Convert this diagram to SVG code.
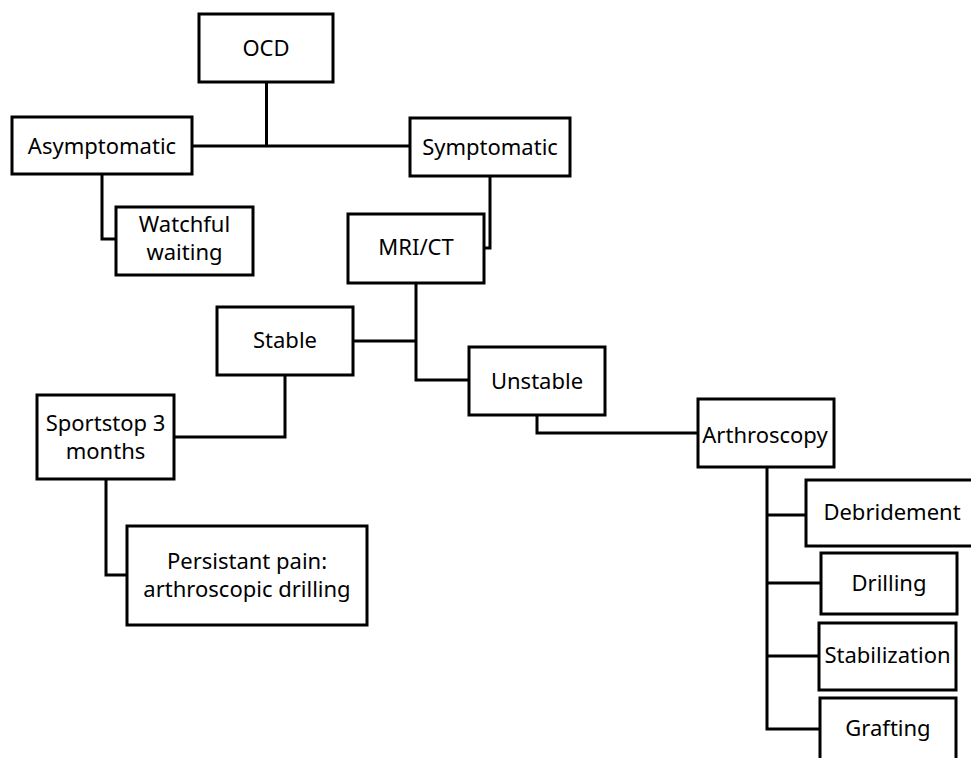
<svg xmlns="http://www.w3.org/2000/svg" width="971" height="758" viewBox="0 0 971 758">
<style>
.box{fill:#fff;stroke:#000;stroke-width:3}
.c{fill:none;stroke:#000;stroke-width:3}
text{font-family:"Noto Sans","Open Sans",sans-serif;font-size:22px;fill:#000;text-anchor:middle}
</style>
<rect width="971" height="758" fill="#fff"/>
<g id="connectors">
<path class="c" d="M266.5,82 V146 M192,146 H410"/>
<path class="c" d="M102,174 V239 H116"/>
<path class="c" d="M490,176 V248 H484"/>
<path class="c" d="M416,283 V380 H469 M353,341 H416"/>
<path class="c" d="M285,375 V437 H174"/>
<path class="c" d="M106,479 V575 H127"/>
<path class="c" d="M537,415 V433 H698"/>
<path class="c" d="M767,467 V729 H820 M767,515 H806 M767,583 H821 M767,656 H819"/>
</g>
<g id="ocd"><rect class="box" x="199" y="14" width="134" height="68"/><text x="266" y="56">OCD</text></g>
<g id="asymptomatic"><rect class="box" x="12" y="117" width="180" height="57"/><text x="102" y="154">Asymptomatic</text></g>
<g id="symptomatic"><rect class="box" x="410" y="118" width="160" height="58"/><text x="490" y="155">Symptomatic</text></g>
<g id="watchful"><rect class="box" x="116" y="207" width="137" height="68"/><text x="184.5" y="232">Watchful<tspan x="184.5" dy="28">waiting</tspan></text></g>
<g id="mri"><rect class="box" x="348" y="214" width="136" height="69"/><text x="416" y="255">MRI/CT</text></g>
<g id="stable"><rect class="box" x="217" y="307" width="136" height="68"/><text x="285" y="348">Stable</text></g>
<g id="unstable"><rect class="box" x="469" y="347" width="136" height="68"/><text x="537" y="389">Unstable</text></g>
<g id="sportstop"><rect class="box" x="37" y="395" width="137" height="84"/><text x="105.5" y="431">Sportstop 3<tspan x="105.5" dy="28">months</tspan></text></g>
<g id="persistant"><rect class="box" x="127" y="526" width="240" height="99"/><text x="247" y="569">Persistant pain:<tspan x="247" dy="28">arthroscopic drilling</tspan></text></g>
<g id="arthroscopy"><rect class="box" x="698" y="399" width="136" height="68"/><text x="765" y="443">Arthroscopy</text></g>
<g id="debridement"><rect class="box" x="806" y="480" width="175" height="66"/><text x="892" y="520">Debridement</text></g>
<g id="drilling"><rect class="box" x="821" y="553" width="136" height="61"/><text x="889" y="591">Drilling</text></g>
<g id="stabilization"><rect class="box" x="819" y="623" width="137" height="67"/><text x="887.5" y="663">Stabilization</text></g>
<g id="grafting"><rect class="box" x="820" y="698" width="136" height="70"/><text x="888" y="736">Grafting</text></g>
</svg>
